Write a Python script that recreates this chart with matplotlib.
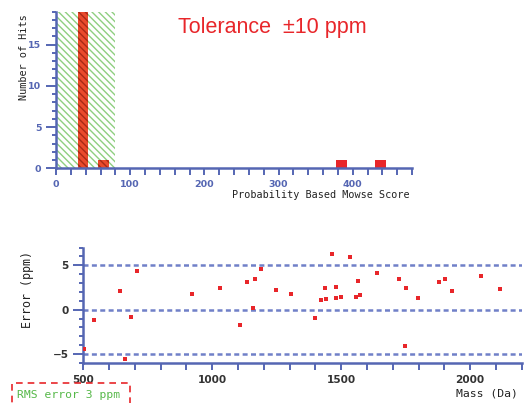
import matplotlib
matplotlib.use("Agg")
import matplotlib.pyplot as plt
from matplotlib.patches import Rectangle
from matplotlib.ticker import MultipleLocator

# ---- score histogram data ----
score_centers = [36.5, 64.5, 385.0, 438.0]
score_counts = [19, 1, 1, 1]
bar_width = 14.5
threshold_score = 80

# ---- mass error data ----
mass = [504, 542, 644, 662, 686, 708, 922, 1032, 1106, 1136, 1159, 1164, 1191,
        1246, 1305, 1398, 1420, 1438, 1443, 1465, 1478, 1479, 1501, 1534, 1556,
        1565, 1574, 1639, 1725, 1748, 1752, 1798, 1879, 1902, 1931, 2044, 2116]
error_ppm = [-4.46, -1.16, 2.14, -5.56, -0.79, 4.4, 1.77, 2.41, -1.72, 3.09, 0.15,
             3.46, 4.55, 2.25, 1.74, -0.94, 1.06, 2.41, 1.2, 6.24, 2.52, 1.32,
             1.47, 5.98, 1.47, 3.2, 1.62, 4.14, 3.46, -4.13, 2.41, 1.35, 3.09,
             3.46, 2.1, 3.76, 2.3]
guide_levels = [-5, 0, 5]

title_text = "Tolerance  \u00b110 ppm"
rms_text = "RMS error 3 ppm"

W, H = 528, 403
fig = plt.figure(figsize=(W / 100, H / 100), dpi=100)

AXIS_BLUE = "#5566b3"
DASH_BLUE = "#7080c8"
RED = "#e8262a"
GREEN = "#8fcf80"
mono = "DejaVu Sans Mono"


def px_rect(x0, x1, y_top, y_bot):
    return [x0 / W, 1 - y_bot / H, (x1 - x0) / W, (y_bot - y_top) / H]


def style_axes(ax, label_color, label_size):
    for s in ("top", "right"):
        ax.spines[s].set_visible(False)
    for s in ("left", "bottom"):
        ax.spines[s].set_color(AXIS_BLUE)
        ax.spines[s].set_linewidth(1.8)
    ax.tick_params(which="both", colors=AXIS_BLUE, width=1.4, direction="out")
    ax.tick_params(axis="both", labelcolor=label_color, labelsize=label_size)
    for lab in ax.get_xticklabels() + ax.get_yticklabels():
        lab.set_fontweight("bold")


# ---- top: score histogram ----
plt.rcParams["hatch.linewidth"] = 1.0
ax1 = fig.add_axes(px_rect(56, 412, 11.7, 168.3))
ax1.set_xlim(0, 480)
ax1.set_ylim(0, 19)
ax1.add_patch(Rectangle((0, 0), threshold_score, 19, facecolor="white",
                        edgecolor=GREEN, hatch="\\\\\\\\\\", linewidth=0, zorder=1))
for c, n in zip(score_centers, score_counts):
    inside = c < threshold_score
    ax1.bar(c, n, width=bar_width, color="#ea4a2c" if inside else RED,
            edgecolor="#a82a16" if inside else RED,
            hatch="\\\\\\\\\\" if inside else None, linewidth=0, zorder=2)
ax1.xaxis.set_major_locator(MultipleLocator(100))
ax1.xaxis.set_minor_locator(MultipleLocator(20))
ax1.yaxis.set_major_locator(MultipleLocator(5))
ax1.yaxis.set_minor_locator(MultipleLocator(1))
ax1.tick_params(axis="x", which="both", length=5)
ax1.tick_params(axis="y", which="major", length=7)
ax1.tick_params(axis="y", which="minor", length=3)
style_axes(ax1, AXIS_BLUE, 6.8)

fig.text(410 / W, 1 - 195 / H, "Probability Based Mowse Score", family=mono,
         fontsize=7.3, ha="right", va="center", color="#222222")
fig.text(24 / W, 1 - 57 / H, "Number of Hits", family=mono, fontsize=7.3,
         rotation=90, ha="center", va="center", color="#222222")
fig.text(178 / W, 1 - 28 / H, title_text, family="Liberation Sans",
         fontsize=15.5, ha="left", va="center", color=RED)

# ---- bottom: mass error scatter ----
ax2 = fig.add_axes(px_rect(83.3, 521.7, 247.6, 362.9))
ax2.set_xlim(500, 2200)
ax2.set_ylim(-6, 7)
for lv in guide_levels:
    ax2.axhline(lv, color=DASH_BLUE, linewidth=1.8, dashes=(2.0, 1.35), zorder=1)
ax2.scatter(mass, error_ppm, marker="s", s=10, color=RED, linewidths=0, zorder=3)
ax2.xaxis.set_major_locator(MultipleLocator(500))
ax2.xaxis.set_minor_locator(MultipleLocator(100))
ax2.yaxis.set_major_locator(MultipleLocator(5))
ax2.yaxis.set_minor_locator(MultipleLocator(1))
ax2.tick_params(axis="x", which="both", length=5)
ax2.tick_params(axis="y", which="major", length=7)
ax2.tick_params(axis="y", which="minor", length=3)
style_axes(ax2, "#333333", 7.6)

fig.text(518 / W, 1 - 393 / H, "Mass (Da)", family=mono, fontsize=8.2,
         ha="right", va="center", color="#222222")
fig.text(27 / W, 1 - 289 / H, "Error (ppm)", family=mono, fontsize=8.4,
         rotation=90, ha="center", va="center", color="#222222")

# ---- RMS annotation box ----
fig.patches.append(Rectangle((12 / W, -0.02), (130 - 12) / W, (0.02 + 1 - 383 / H),
                             transform=fig.transFigure, fill=False,
                             edgecolor=RED, linestyle=(0, (4, 3)), linewidth=1.2))
fig.text(17 / W, 1 - 395 / H, rms_text, family=mono, fontsize=8.2,
         ha="left", va="center", color="#55b848")

fig.savefig("out.png", dpi=100)
